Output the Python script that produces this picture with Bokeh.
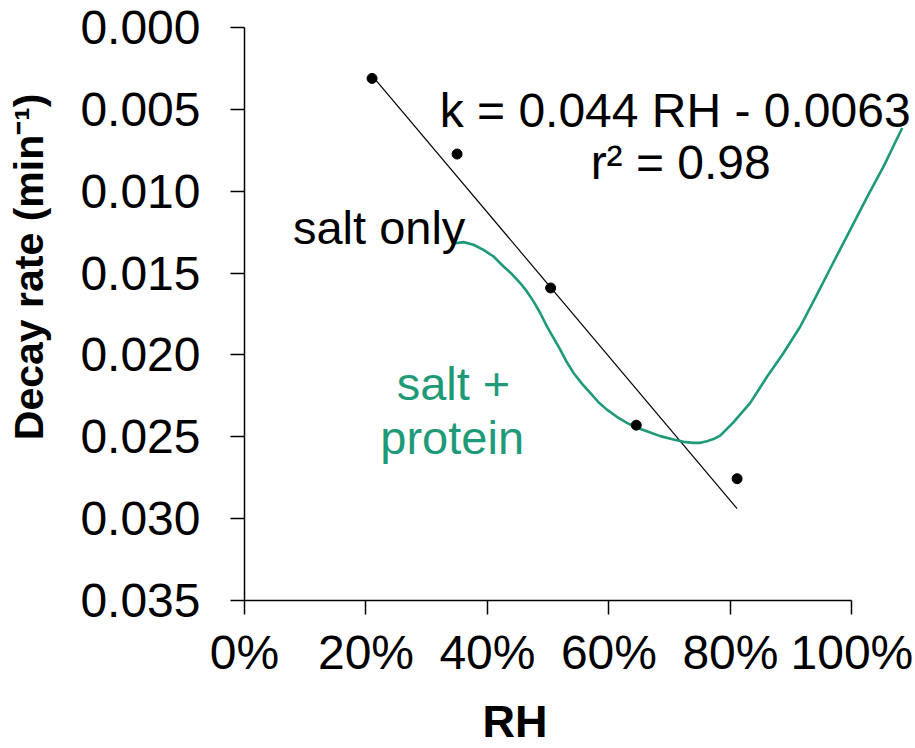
from bokeh.plotting import figure
from bokeh.models import Range1d, FixedTicker, NumeralTickFormatter, Label, Title
from bokeh.embed import file_html
from bokeh.resources import INLINE

# ---- data ----
rh_points = [0.210, 0.350, 0.504, 0.645, 0.811]
k_points = [0.00311, 0.00773, 0.01591, 0.02429, 0.02756]

fit_slope = 0.044
fit_intercept = -0.0063

protein_rh = [0.3415, 0.3606, 0.3770, 0.3935, 0.4100, 0.4264, 0.4402, 0.4539, 0.4649,
              0.4758, 0.4868, 0.4979, 0.5087, 0.5198, 0.5308, 0.5417, 0.5555, 0.5692,
              0.5828, 0.5966, 0.6131, 0.6296, 0.6460, 0.6625, 0.6844, 0.7063, 0.7228,
              0.7392, 0.7503, 0.7613, 0.7722, 0.7832, 0.8045, 0.8326, 0.8605, 0.8874,
              0.9148, 0.9424, 0.9692, 0.9972, 1.0252, 1.0520, 1.0828]
protein_k = [0.01321, 0.01311, 0.01327, 0.01358, 0.01399, 0.01460, 0.01506, 0.01561, 0.01612,
             0.01673, 0.01744, 0.01826, 0.01896, 0.01968, 0.02045, 0.02110, 0.02175, 0.02232,
             0.02289, 0.02334, 0.02378, 0.02415, 0.02445, 0.02466, 0.02496, 0.02516, 0.02531,
             0.02537, 0.02537, 0.02527, 0.02514, 0.02493, 0.02413, 0.02293, 0.02132, 0.01988,
             0.01828, 0.01632, 0.01437, 0.01236, 0.01035, 0.00850, 0.00614]

x_ticks = [0.0, 0.2, 0.4, 0.6, 0.8, 1.0]
y_ticks = [0.000, 0.005, 0.010, 0.015, 0.020, 0.025, 0.030, 0.035]

GREEN = "#1f9a78"
FONT = "Liberation Sans"

p = figure(width=913, height=746, output_backend="svg", toolbar_location=None,
           x_range=Range1d(0, 1.1014), y_range=Range1d(0.035, 0.0),
           min_border_left=244, min_border_right=0, min_border_top=27, min_border_bottom=146)
p.outline_line_color = None
p.xgrid.visible = False
p.ygrid.visible = False
p.background_fill_color = "white"
p.border_fill_color = "white"

for ax in (p.xaxis[0], p.yaxis[0]):
    ax.axis_line_color = "black"
    ax.axis_line_width = 1.5
    ax.major_tick_line_color = "black"
    ax.major_tick_line_width = 1.5
    ax.major_tick_in = 0
    ax.major_tick_out = 14
    ax.minor_tick_line_color = None
    ax.major_label_text_font = FONT
    ax.major_label_text_font_size = "48px"
    ax.major_label_text_color = "black"

p.xaxis.ticker = FixedTicker(ticks=x_ticks)
p.xaxis.formatter = NumeralTickFormatter(format="0%")
p.xaxis.bounds = (0, 1)
p.xaxis.major_label_standoff = 11

p.yaxis.ticker = FixedTicker(ticks=y_ticks)
p.yaxis.formatter = NumeralTickFormatter(format="0.000")
p.yaxis.major_label_standoff = 30

# fitted line
fit_x = [rh_points[0], rh_points[-1]]
fit_y = [fit_slope * x + fit_intercept for x in fit_x]
p.line(fit_x, fit_y, line_color="black", line_width=1.2)

# salt + protein curve
p.line(protein_rh, protein_k, line_color=GREEN, line_width=2.6, line_join="round")

# salt-only points
p.scatter(rh_points, k_points, size=10, color="black", marker="circle")

def add_label(text, x, y, color="black", size="47px"):
    p.add_layout(Label(x=x, y=y, text=text, text_color=color, text_font=FONT,
                       text_font_size=size, text_align="center",
                       text_baseline="alphabetic"))

add_label("k = 0.044 RH - 0.0063", 0.7090, 0.00505, size="48px")
add_label("r\u00b2 = 0.98", 0.7181, 0.00823, size="48px")
add_label("salt only", 0.2217, 0.01220)
add_label("salt +", 0.3440, 0.02173, color=GREEN)
add_label("protein", 0.3419, 0.02503, color=GREEN)

# spacers between axes and their titles
p.add_layout(Title(text=" ", text_font_size="1px", standoff=9), "below")
p.add_layout(Title(text=" ", text_font_size="1px", standoff=21), "left")

# axis titles
x_title = Title(text="RH", align="left", offset=238, standoff=0,
                text_font=FONT, text_font_size="45px", text_font_style="bold",
                text_color="black")
p.add_layout(x_title, "below")

y_title = Title(text="Decay rate (min\u207b\u00b9)", align="right", offset=66, standoff=4,
                text_font=FONT, text_font_size="41px", text_font_style="bold",
                text_color="black")
p.add_layout(y_title, "left")

open("out.html", "w").write(file_html(p, INLINE))
